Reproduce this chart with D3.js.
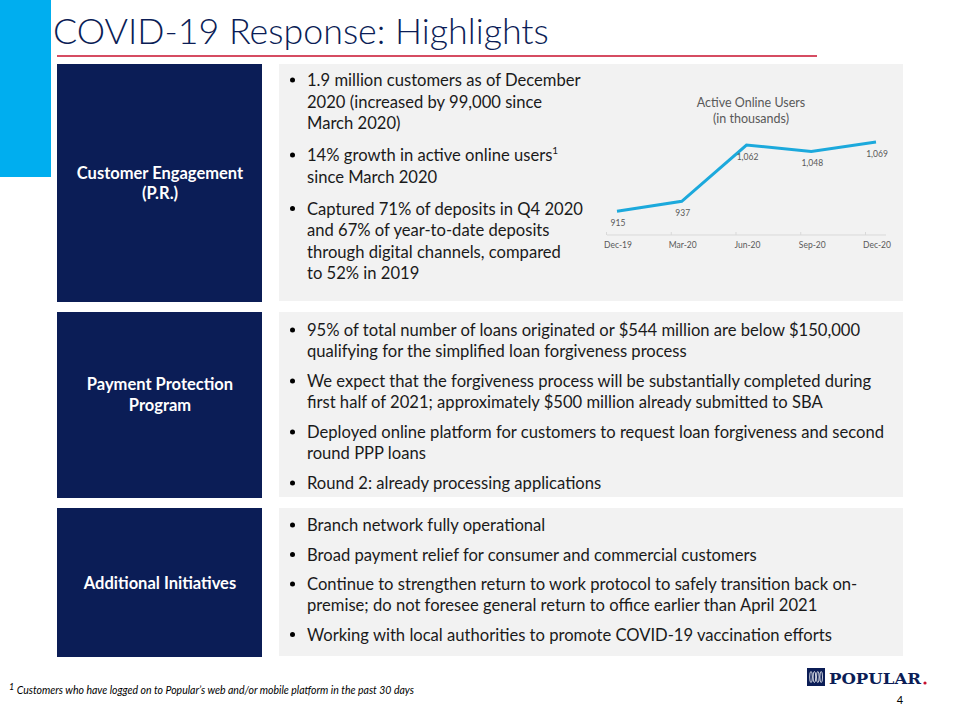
<!DOCTYPE html>
<html>
<head>
<meta charset="utf-8">
<script src="https://cdn.jsdelivr.net/npm/d3@7"></script>
<style>
  body { margin: 0; background: #fff; }
  svg { display: block; font-family: Lato, "Open Sans", sans-serif; }
</style>
</head>
<body>
<div id="slide"></div>
<script>
// chart data
const months = ["Dec-19", "Mar-20", "Jun-20", "Sep-20", "Dec-20"];
const activeUsers = [915, 937, 1062, 1048, 1069];

// slide text
const headers = [["Customer Engagement", "(P.R.)"], ["Payment Protection", "Program"], ["Additional Initiatives"]];
const bullets1 = [
    ["1.9 million customers as of December", "2020 (increased by 99,000 since", "March 2020)"],
    ["14% growth in active online users¹", "since March 2020"],
    ["Captured 71% of deposits in Q4 2020", "and 67% of year-to-date deposits", "through digital channels, compared", "to 52% in 2019"]
];
const bullets2 = [
    ["95% of total number of loans originated or $544 million are below $150,000", "qualifying for the simplified loan forgiveness process"],
    ["We expect that the forgiveness process will be substantially completed during", "first half of 2021; approximately $500 million already submitted to SBA"],
    ["Deployed online platform for customers to request loan forgiveness and second", "round PPP loans"],
    ["Round 2: already processing applications"]
];
const bullets3 = [
    ["Branch network fully operational"],
    ["Broad payment relief for consumer and commercial customers"],
    ["Continue to strengthen return to work protocol to safely transition back on-", "premise; do not foresee general return to office earlier than April 2021"],
    ["Working with local authorities to promote COVID-19 vaccination efforts"]
];

const navy = "#0b1d56";
const W = 960, H = 720;

const svg = d3.select("#slide").append("svg")
    .attr("width", W)
    .attr("height", H);

// left accent bar
svg.append("rect").attr("x", 0).attr("y", 0).attr("width", 51).attr("height", 177).attr("fill", "#00aeef");

// title
svg.append("text")
    .attr("x", 53).attr("y", 44)
    .attr("font-size", 35.8).attr("font-weight", 300)
    .attr("fill", navy)
    .text("COVID-19 Response: Highlights");

svg.append("line")
    .attr("x1", 57).attr("x2", 817).attr("y1", 56).attr("y2", 56)
    .attr("stroke", "#c8102e").attr("stroke-width", 1.6);

// panels
const rows = [
    {top: 64, bottom: 302, header: headers[0], hy: 189, bullets: bullets1, first: 86, lh: 21.5, gap: 32},
    {top: 312, bottom: 498, header: headers[1], hy: 400.5, bullets: bullets2, first: 336, lh: 21, gap: 30},
    {top: 508, bottom: 657, header: headers[2], hy: 589, bullets: bullets3, first: 531, lh: 21, gap: 29.5}
];

rows.forEach(r => {
    svg.append("rect")
        .attr("x", 57).attr("y", r.top).attr("width", 205).attr("height", r.bottom - r.top)
        .attr("fill", navy);
    svg.append("rect")
        .attr("x", 279).attr("y", r.top).attr("width", 624).attr("height", r.bottom - r.top - 1)
        .attr("fill", "#f2f2f2");

    const hl = r.header.length;
    r.header.forEach((t, i) => {
        svg.append("text")
            .attr("x", 160).attr("y", r.hy + (i - (hl - 1) / 2) * 20.5)
            .attr("text-anchor", "middle")
            .attr("font-size", 16.5).attr("font-weight", 700)
            .attr("fill", "#fff")
            .text(t);
    });

    let y = r.first;
    r.bullets.forEach(b => {
        svg.append("circle").attr("cx", 292.5).attr("cy", y - 6).attr("r", 2.5).attr("fill", "#000");
        b.forEach(line => {
            const t = svg.append("text")
                .attr("x", 307).attr("y", y)
                .attr("font-size", 16.6)
                .attr("fill", "#1a1a1a");
            if (line.endsWith("¹")) {
                t.append("tspan").text(line.slice(0, -1));
                t.append("tspan").attr("font-size", 10).attr("dy", -7).text("1");
            } else {
                t.text(line);
            }
            y += r.lh;
        });
        y += r.gap - r.lh;
    });
});

// line chart
const x = d3.scalePoint().domain(months).range([617, 876]);
const yScale = d3.scaleLinear().domain([862, 1100]).range([235, 128]);
const pts = months.map((m, i) => ({m, v: activeUsers[i]}));

const chart = svg.append("g");
const grey = "#595959";

chart.append("text").attr("x", 751).attr("y", 107).attr("text-anchor", "middle")
    .attr("font-size", 12.5).attr("fill", grey).text("Active Online Users");
chart.append("text").attr("x", 751).attr("y", 123).attr("text-anchor", "middle")
    .attr("font-size", 12.5).attr("fill", grey).text("(in thousands)");

const first = x(months[0]), last = x(months[months.length - 1]);
chart.append("line")
    .attr("x1", first - 10).attr("x2", last + 10)
    .attr("y1", yScale(862)).attr("y2", yScale(862))
    .attr("stroke", "#d9d9d9");

chart.selectAll(".tick-mark").data(months).join("line")
    .attr("class", "tick-mark")
    .attr("x1", d => x(d) - 10.5).attr("x2", d => x(d) - 10.5)
    .attr("y1", yScale(862)).attr("y2", yScale(862) - 3)
    .attr("stroke", "#d9d9d9");

chart.selectAll(".month").data(months).join("text")
    .attr("class", "month")
    .attr("x", d => x(d) + 1).attr("y", 248)
    .attr("text-anchor", "middle")
    .attr("font-size", 8.5).attr("fill", grey)
    .text(d => d);

chart.append("path")
    .datum(pts)
    .attr("fill", "none")
    .attr("stroke", "#1ca9dc")
    .attr("stroke-width", 3)
    .attr("d", d3.line().x(d => x(d.m)).y(d => yScale(d.v)));

chart.selectAll(".val").data(pts).join("text")
    .attr("class", "val")
    .attr("x", d => x(d.m) + 1)
    .attr("y", d => yScale(d.v) + 15)
    .attr("text-anchor", "middle")
    .attr("font-size", 8.5).attr("fill", grey)
    .text(d => d3.format(",")(d.v));

// footnote
const fn = svg.append("text").attr("x", 9).attr("y", 694)
    .attr("font-size", 10.5).attr("font-style", "italic").attr("fill", "#000");
fn.append("tspan").attr("font-size", 9).attr("dy", -4).text("1");
fn.append("tspan").attr("dy", 4).text(" Customers who have logged on to Popular’s web and/or mobile platform in the past 30 days");

// logo
svg.append("rect").attr("x", 807).attr("y", 668).attr("width", 18).attr("height", 18).attr("fill", navy);
[0, 1, 2, 3].forEach(i => {
    svg.append("ellipse")
        .attr("cx", 811 + i * 3.4).attr("cy", 677).attr("rx", 1.3).attr("ry", 5.5)
        .attr("fill", "none").attr("stroke", "#fff").attr("stroke-width", 0.8);
});
svg.append("text").attr("x", 829).attr("y", 684)
    .attr("font-family", "DejaVu Serif").attr("font-weight", 700).attr("font-size", 15)
    .attr("textLength", 92).attr("lengthAdjust", "spacingAndGlyphs")
    .attr("fill", navy).text("POPULAR");
svg.append("circle").attr("cx", 925).attr("cy", 683).attr("r", 1.6).attr("fill", "#c8102e");

svg.append("text").attr("x", 900).attr("y", 704).attr("text-anchor", "middle")
    .attr("font-size", 11).attr("fill", "#000").text("4");
</script>
</body>
</html>
